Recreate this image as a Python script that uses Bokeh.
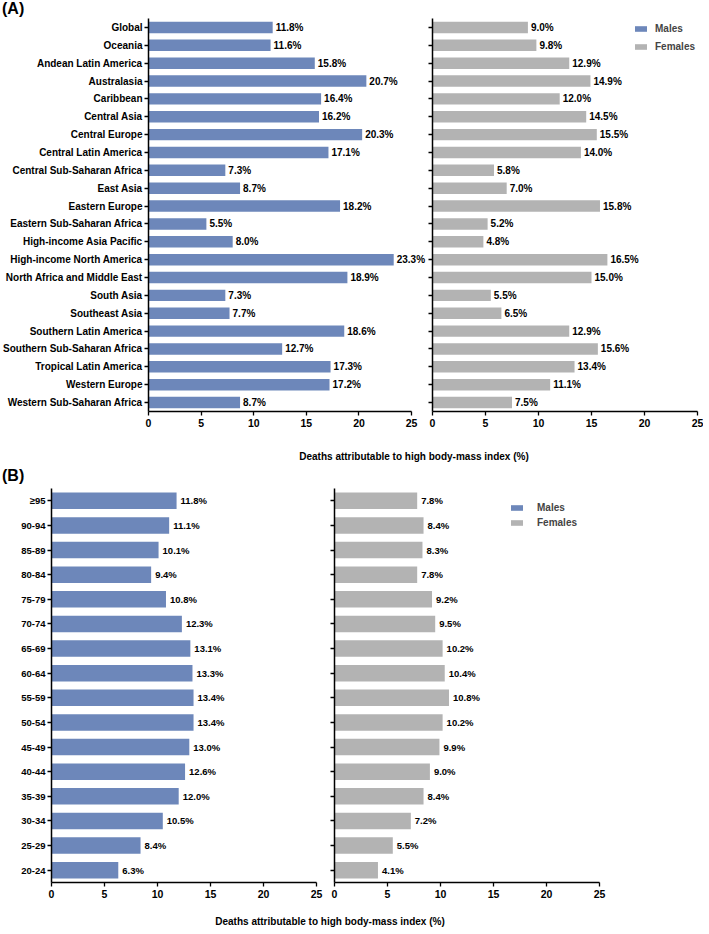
from bokeh.plotting import figure
from bokeh.models import (FactorRange, Range1d, FixedTicker, ColumnDataSource,
                          Legend, LegendItem, Div, LinearAxis, CustomJSTickFormatter)
from bokeh.layouts import column, row
from bokeh.embed import file_html
from bokeh.resources import INLINE
from bokeh.core.properties import value

# ---------------- data ----------------
regions = ["Global", "Oceania", "Andean Latin America", "Australasia", "Caribbean",
           "Central Asia", "Central Europe", "Central Latin America",
           "Central Sub-Saharan Africa", "East Asia", "Eastern Europe",
           "Eastern Sub-Saharan Africa", "High-income Asia Pacific",
           "High-income North America", "North Africa and Middle East",
           "South Asia", "Southeast Asia", "Southern Latin America",
           "Southern Sub-Saharan Africa", "Tropical Latin America",
           "Western Europe", "Western Sub-Saharan Africa"]
region_males = [11.8, 11.6, 15.8, 20.7, 16.4, 16.2, 20.3, 17.1, 7.3, 8.7, 18.2,
                5.5, 8.0, 23.3, 18.9, 7.3, 7.7, 18.6, 12.7, 17.3, 17.2, 8.7]
region_females = [9.0, 9.8, 12.9, 14.9, 12.0, 14.5, 15.5, 14.0, 5.8, 7.0, 15.8,
                  5.2, 4.8, 16.5, 15.0, 5.5, 6.5, 12.9, 15.6, 13.4, 11.1, 7.5]

ages = ["≥95", "90-94", "85-89", "80-84", "75-79", "70-74", "65-69", "60-64",
        "55-59", "50-54", "45-49", "40-44", "35-39", "30-34", "25-29", "20-24"]
age_males = [11.8, 11.1, 10.1, 9.4, 10.8, 12.3, 13.1, 13.3, 13.4, 13.4, 13.0,
             12.6, 12.0, 10.5, 8.4, 6.3]
age_females = [7.8, 8.4, 8.3, 7.8, 9.2, 9.5, 10.2, 10.4, 10.8, 10.2, 9.9, 9.0,
               8.4, 7.2, 5.5, 4.1]

x_ticks = [0, 5, 10, 15, 20, 25]
series_names = ["Males", "Females"]
axis_title = "Deaths attributable to high body-mass index (%)"
panel_tags = ["(A)", "(B)"]

BLUE = "#6D87BA"
GREY = "#B3B3B3"
FONT = "Liberation Sans"
W = 703
FW = 265                 # frame width for a 0-25 axis
PX = FW / 25.0           # px per x unit


def style_axis(ax):
    ax.axis_line_width = 1.5
    ax.axis_line_color = "black"
    ax.major_tick_line_width = 1.3
    ax.major_tick_line_color = "black"
    ax.major_tick_out = 4
    ax.major_tick_in = 0
    ax.minor_tick_line_color = None
    ax.major_label_text_font = FONT
    ax.major_label_text_font_style = "bold"
    ax.major_label_text_color = "black"


def make_fig(yr, n, width, height, xmax, bl, br, bt, bb, show_labels):
    p = figure(width=width, height=height, y_range=yr, x_range=Range1d(0, xmax),
               output_backend="svg", toolbar_location=None,
               y_axis_location="left" if show_labels else None,
               min_border_left=bl, min_border_right=br,
               min_border_top=bt, min_border_bottom=bb)
    p.outline_line_color = None
    p.grid.visible = False
    p.background_fill_color = "white"
    p.border_fill_color = "white"
    if not show_labels:
        yax = LinearAxis(ticker=FixedTicker(ticks=[i + 0.5 for i in range(n)], minor_ticks=[]),
                         formatter=CustomJSTickFormatter(code="return '';"))
        yax.major_label_standoff = 0
        p.add_layout(yax, "left")
    style_axis(p.xaxis[0])
    style_axis(p.yaxis[0])
    p.xaxis.ticker = FixedTicker(ticks=x_ticks, minor_ticks=[])
    p.xaxis.bounds = (0, 25)
    p.xaxis.major_label_text_font_size = "10.5px"
    p.xaxis.major_label_standoff = 3
    if show_labels:
        p.yaxis.major_label_standoff = 2
    return p


def add_bars(p, cats, vals, color, bar_h, fsize, off):
    src = ColumnDataSource(dict(y=cats, x=vals, lab=["%.1f%%" % v for v in vals]))
    r = p.hbar(y="y", right="x", left=0, height=bar_h, source=src,
               fill_color=color, line_color=None)
    p.text(x="x", y="y", text="lab", source=src, x_offset=off,
           text_baseline="middle", text_align="left",
           text_font=value(FONT), text_font_style="bold",
           text_font_size=fsize, text_color="black")
    return r, src


def make_legend(p, src_m, r_f, bar_h, location, spacing, standoff):
    dummy = p.hbar(y="y", right="x", left=0, height=bar_h, source=src_m,
                   fill_color=BLUE, line_color=None, visible=False)
    leg = Legend(items=[LegendItem(label=series_names[0], renderers=[dummy]),
                        LegendItem(label=series_names[1], renderers=[r_f])],
                 location=location, margin=0, padding=0, spacing=spacing,
                 glyph_width=15, glyph_height=7, label_height=10, label_width=60,
                 label_standoff=standoff,
                 border_line_color=None, background_fill_alpha=0,
                 inactive_fill_alpha=0,
                 label_text_font=FONT, label_text_font_style="bold",
                 label_text_font_size="10px")
    p.add_layout(leg)


# ---------------- panel A ----------------
yrA = FactorRange(factors=list(reversed(regions)), range_padding=0)
FA = 393

divTop = Div(text=('<div style="font-family:\'Liberation Sans\';font-weight:bold;'
                   'font-size:16px;line-height:17px;padding-left:2px;color:black;">'
                   + panel_tags[0] + '</div>'),
             width=W, height=17, margin=(0, 0, 0, 0))

extA = 280
pAL = make_fig(yrA, len(regions), 146 + extA, 1 + FA + 24, extA / PX, 146, 0, 1, 24, True)
pAL.yaxis.major_label_text_font_size = "10px"
rAm, srcAm = add_bars(pAL, regions, region_males, BLUE, 0.64, "10px", 3)

pAR = make_fig(yrA, len(regions), 6 + FW + 6, 1 + FA + 24, 25, 6, 6, 1, 24, False)
rAf, _ = add_bars(pAR, regions, region_females, GREY, 0.64, "10px", 3)
make_legend(pAR, srcAm, rAf, 0.64, (201, FA - 34), 7, 7)

divA = Div(text=('<div style="width:' + str(W) + 'px;font-family:\'Liberation Sans\';'
                 'font-weight:bold;color:black;">'
                 '<div style="box-sizing:border-box;padding-left:125px;padding-top:16px;'
                 'text-align:center;font-size:10px;line-height:12px;">' + axis_title + '</div>'
                 '<div style="padding-left:2px;padding-top:4px;font-size:16px;line-height:17px;">'
                 + panel_tags[1] + '</div></div>'),
           width=W, height=50, margin=(0, 0, 0, 0))

# ---------------- panel B ----------------
yrB = FactorRange(factors=list(reversed(ages)), range_padding=0)
FB = 394

pBL = make_fig(yrB, len(ages), 51 + FW + 12, 3 + FB + 24, 25, 51, 12, 3, 24, True)
pBL.yaxis.major_label_text_font_size = "9.5px"
rBm, srcBm = add_bars(pBL, ages, age_males, BLUE, 0.67, "9.5px", 4)

pBR = make_fig(yrB, len(ages), 6 + FW + 8, 3 + FB + 24, 25, 6, 8, 3, 24, False)
rBf, _ = add_bars(pBR, ages, age_females, GREY, 0.67, "9.5px", 4)
make_legend(pBR, srcBm, rBf, 0.67, (175, FB - 40), 4, 13)

divB = Div(text=('<div style="width:' + str(W) + 'px;box-sizing:border-box;padding-right:43px;'
                 'padding-top:10px;text-align:center;font-family:\'Liberation Sans\';'
                 'font-weight:bold;font-size:10px;line-height:12px;color:black;">'
                 + axis_title + '</div>'),
           width=W, height=22, margin=(0, 0, 0, 0))

layout = column(divTop, row(pAL, pAR), divA, row(pBL, pBR), divB)

with open("out.html", "w") as f:
    f.write(file_html(layout, INLINE))
